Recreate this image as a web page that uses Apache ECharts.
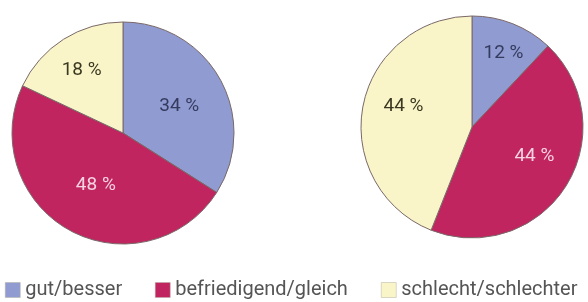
<!DOCTYPE html>
<html>
<head>
<meta charset="utf-8">
<script src="https://cdn.jsdelivr.net/npm/echarts@6/dist/echarts.min.js"></script>
<style>
  html, body { margin: 0; padding: 0; background: #fff; }
  #chart { width: 588px; height: 302px; }
</style>
</head>
<body>
<div id="chart"></div>
<script>
// Kategorien und Werte (Prozent)
var categories = ['gut/besser', 'befriedigend/gleich', 'schlecht/schlechter'];
var leftValues = [34, 48, 18];
var rightValues = [12, 44, 44];

var colors = ['#8f9bd1', '#c1255f', '#f9f5c9'];
var labelColors = ['#353b5e', '#f6d3e2', '#3a3820'];

// kleine Verschiebungen der Beschriftungen, wie im Original
var leftOffsets = [[5, 1], [1, 1], [-10, -13]];
var rightOffsets = [[10, -19], [13, -2], [-11, -10]];

function buildData(values, offsets) {
    return values.map(function (v, i) {
        return {
            value: v,
            name: categories[i],
            itemStyle: { color: colors[i] },
            label: { color: labelColors[i], offset: offsets[i] }
        };
    });
}

function pieSeries(center, values, offsets) {
    return {
        type: 'pie',
        radius: 111,
        center: center,
        startAngle: 90,
        clockwise: true,
        animation: false,
        silent: true,
        label: {
            show: true,
            position: 'inside',
            formatter: '{c} %',
            fontSize: 19,
            fontFamily: 'Roboto',
            textBorderWidth: 0
        },
        labelLine: { show: false },
        itemStyle: {
            borderColor: '#7a6868',
            borderWidth: 1
        },
        data: buildData(values, offsets)
    };
}

function legendAt(left, name) {
    return {
        left: left,
        top: 280,
        padding: 0,
        data: [name],
        icon: 'rect',
        itemWidth: 15,
        itemHeight: 15,
        itemGap: 0,
        selectedMode: false,
        itemStyle: { borderColor: '#b5b0a0', borderWidth: 0.5 },
        textStyle: {
            color: '#555555',
            fontSize: 20,
            fontFamily: 'Roboto'
        }
    };
}

var option = {
    backgroundColor: '#ffffff',
    legend: [
        legendAt(5, categories[0]),
        legendAt(155, categories[1]),
        legendAt(381, categories[2])
    ],
    series: [
        pieSeries([123, 133], leftValues, leftOffsets),
        pieSeries([472, 127], rightValues, rightOffsets)
    ]
};

var myChart = echarts.init(document.getElementById('chart'), null, { renderer: 'canvas' });
myChart.setOption(option);
</script>
</body>
</html>
